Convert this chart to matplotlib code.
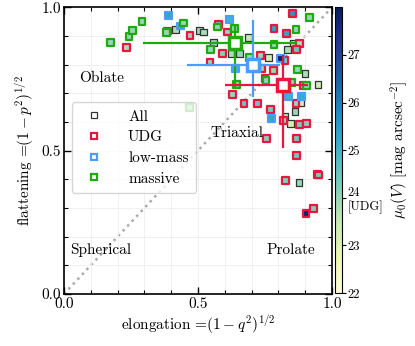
import matplotlib.pyplot as plt
import numpy as np

plt.rcParams["font.family"] = "serif"
plt.rcParams["font.serif"] = ["cmr10", "DejaVu Serif"]
plt.rcParams["mathtext.fontset"] = "cm"
plt.rcParams["axes.formatter.use_mathtext"] = True
plt.rcParams["font.size"] = 11

# individual galaxies: elongation, flattening, central surface brightness
all_x = [0.415, 0.505, 0.522, 0.557, 0.688, 0.623, 0.654, 0.762, 0.856, 0.833,
         0.899, 0.948, 0.883, 0.862, 0.825, 0.846, 0.877]
all_y = [0.922, 0.920, 0.914, 0.877, 0.894, 0.838, 0.838, 0.825, 0.873, 0.853,
         0.769, 0.732, 0.667, 0.636, 0.618, 0.595, 0.388]
all_mu = [23.8, 24.0, 23.8, 24.0, 23.5, 23.8, 24.0, 23.3, 23.5, 23.8,
          23.8, 23.3, 23.3, 24.0, 23.5, 23.2, 24.0]

udg_x = [0.234, 0.385, 0.470, 0.576, 0.609, 0.591, 0.545, 0.734, 0.738, 0.781,
         0.852, 0.784, 0.831, 0.878, 0.868, 0.825, 0.750, 0.892, 0.866, 0.629,
         0.672, 0.723, 0.771, 0.818, 0.878, 0.905, 0.756, 0.868, 0.868, 0.945,
         0.951, 0.826, 0.930, 0.903]
udg_y = [0.860, 0.917, 0.902, 0.941, 0.914, 0.838, 0.809, 0.833, 0.786, 0.779,
         0.978, 0.926, 0.908, 0.873, 0.853, 0.815, 0.753, 0.728, 0.664, 0.697,
         0.664, 0.664, 0.643, 0.606, 0.592, 0.595, 0.543, 0.543, 0.484, 0.418,
         0.415, 0.397, 0.298, 0.281]
udg_mu = [23.8, 24.0, 24.0, 24.5, 24.0, 24.2, 24.0, 24.0, 24.0, 24.0,
          25.6, 25.3, 25.3, 23.8, 24.5, 24.2, 24.3, 24.0, 24.0, 24.0,
          24.5, 24.5, 24.3, 24.0, 24.3, 24.2, 24.2, 24.4, 24.4, 24.5,
          24.3, 24.2, 24.2, 27.8]

low_x = [0.389, 0.435, 0.617, 0.641, 0.809, 0.837, 0.887, 0.775]
low_y = [0.972, 0.935, 0.958, 0.786, 0.820, 0.690, 0.690, 0.612]
low_mu = [25.3, 25.3, 25.0, 25.0, 27.9, 25.0, 25.2, 25.3]

mas_x = [0.175, 0.243, 0.256, 0.291, 0.382, 0.445, 0.572, 0.636, 0.547, 0.691,
         0.915, 0.866, 0.784, 0.871, 0.644, 0.851, 0.905, 0.467, 0.754]
mas_y = [0.878, 0.897, 0.920, 0.949, 0.912, 0.945, 0.931, 0.926, 0.853, 0.825,
         0.964, 0.922, 0.871, 0.783, 0.732, 0.739, 0.728, 0.650, 0.744]
mas_mu = [24.0] * 19

# sample means with ranges (lo, hi)
mean_names = ["massive", "low-mass", "UDG"]
mean_x = [0.638, 0.706, 0.818]
mean_y = [0.876, 0.800, 0.728]
mean_xlo = [0.296, 0.458, 0.601]
mean_xhi = [0.868, 0.806, 0.910]
mean_ylo = [0.723, 0.688, 0.509]
mean_yhi = [0.934, 0.955, 0.833]

colors = {"All": "#333333", "UDG": "#e8173f", "low-mass": "#4a9cff", "massive": "#1faa10"}

fig = plt.figure(figsize=(4.15, 3.46), dpi=100)
ax = fig.add_axes([0.154, 0.150, 0.646, 0.829])
cax = fig.add_axes([0.807, 0.153, 0.017, 0.826])

cmap = plt.get_cmap("YlGnBu")
norm = plt.Normalize(22, 28)

ax.grid(True, which="both", color="#eeeeee", lw=0.6, zorder=0)
ax.plot([0, 1], [0, 1], ls=":", color="#aaaaaa", lw=1.8, zorder=1)

groups = [("All", all_x, all_y, all_mu, 0.9),
          ("UDG", udg_x, udg_y, udg_mu, 1.6),
          ("low-mass", low_x, low_y, low_mu, 1.6),
          ("massive", mas_x, mas_y, mas_mu, 1.6)]
for name, xs, ys, mus, mew in groups:
    ax.scatter(xs, ys, c=mus, cmap=cmap, norm=norm, marker="s", s=24,
               edgecolors=colors[name], linewidths=mew, zorder=3)
    ax.plot([], [], ls="none", marker="s", ms=5, mfc="white",
            mec=colors[name], mew=mew, label=name)

for i, name in enumerate(mean_names):
    c = colors[name]
    ax.errorbar(mean_x[i], mean_y[i],
                xerr=[[mean_x[i] - mean_xlo[i]], [mean_xhi[i] - mean_x[i]]],
                yerr=[[mean_y[i] - mean_ylo[i]], [mean_yhi[i] - mean_y[i]]],
                fmt="s", ms=9, mfc="white", mec=c, mew=2.5, ecolor=c,
                elinewidth=1.6, capsize=0, zorder=5)

ax.text(0.057, 0.753, "Oblate", va="center", fontsize=11)
ax.text(0.547, 0.56, "Triaxial", va="center", fontsize=11)
ax.text(0.022, 0.153, "Spherical", va="center", fontsize=11)
ax.text(0.756, 0.153, "Prolate", va="center", fontsize=11)

ax.set_xlim(0, 1)
ax.set_ylim(0, 1)
ax.set_xticks([0, 0.5, 1.0])
ax.set_yticks([0, 0.5, 1.0])
ax.set_xticklabels(["0.0", "0.5", "1.0"])
ax.set_yticklabels(["0.0", "0.5", "1.0"])
ax.set_xticks(np.arange(0, 1.01, 0.1), minor=True)
ax.set_yticks(np.arange(0, 1.01, 0.1), minor=True)
ax.tick_params(which="both", direction="in", top=True, right=True)
ax.tick_params(which="major", length=5, width=1, pad=2)
ax.tick_params(which="minor", length=3, width=0.8)
for s in ax.spines.values():
    s.set_linewidth(1.2)
ax.set_xlabel("elongation =$(1-q^2)^{1/2}$", labelpad=2)
ax.set_ylabel("flattening =$(1-p^2)^{1/2}$", labelpad=4)

leg = ax.legend(loc="lower left", bbox_to_anchor=(0.0, 0.325), fontsize=11,
                handletextpad=1.2, labelspacing=0.45, borderpad=0.5,
                framealpha=0.8, edgecolor="#cccccc")
leg.set_zorder(10)

sm = plt.cm.ScalarMappable(norm=norm, cmap=cmap)
cb = fig.colorbar(sm, cax=cax)
cb.set_ticks([22, 23, 24, 25, 26, 27])
cb.set_ticklabels(["22", "23", "24\n[UDG]", "25", "26", "27"])
cb.ax.tick_params(labelsize=9, length=3, pad=1)
cb.set_label(r"$\mu_0(V)$ [mag arcsec$^{-2}$]", fontsize=11)

fig.savefig("out.png", dpi=100)
